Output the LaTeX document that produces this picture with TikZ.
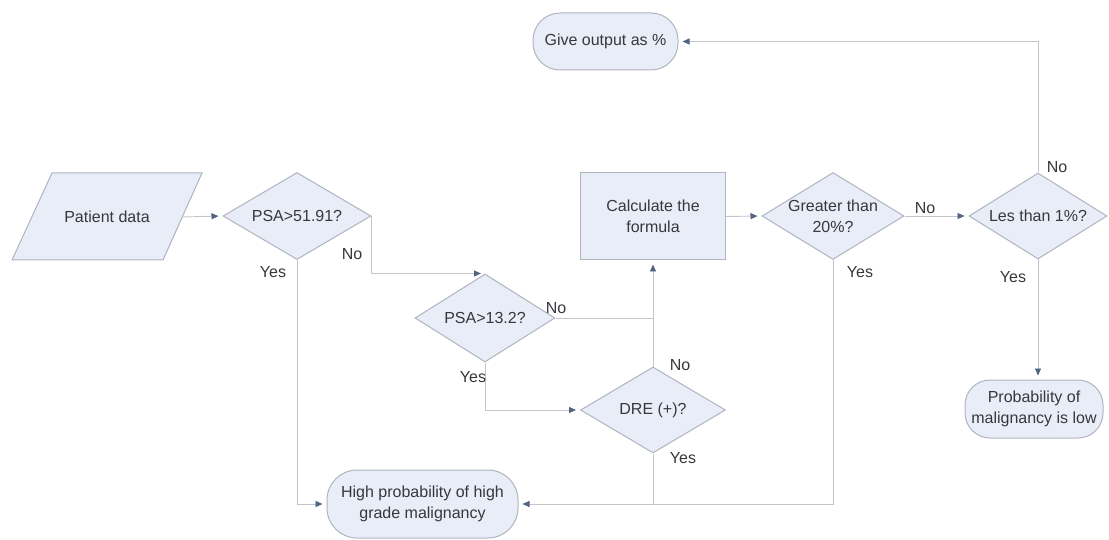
\documentclass[tikz,border=0pt]{standalone}
\usepackage{fontspec}
\setmainfont{Liberation Sans}
\usetikzlibrary{shapes.geometric,arrows.meta}

\definecolor{boxfill}{RGB}{233,237,248}
\definecolor{boxline}{RGB}{176,180,192}
\definecolor{wire}{RGB}{195,197,203}
\definecolor{tipc}{RGB}{80,100,130}
\definecolor{ink}{RGB}{55,55,60}

\tikzset{
  txt/.style={font=\fontsize{16}{21}\selectfont, text=ink, align=center},
  decision/.style={diamond, draw=boxline, fill=boxfill, line width=1pt, inner sep=0pt,
                   minimum width=#1, minimum height=87pt},
  process/.style={rectangle, draw=boxline, fill=boxfill, line width=1pt, txt,
                  minimum width=145pt, minimum height=87pt},
  terminal/.style={rectangle, rounded corners=27pt, draw=boxline, fill=boxfill,
                   line width=1pt, txt, inner sep=0pt},
  flow/.style={draw=wire, line width=0.9pt,
               -{Triangle[length=7pt,width=6pt,color=tipc]}, shorten >=4pt},
  joinline/.style={draw=wire, line width=0.9pt},
  lbl/.style={txt, inner sep=0pt}
}

\begin{document}
\begin{tikzpicture}[x=1pt,y=-1pt]
\useasboundingbox (0,0) rectangle (1109,540);

% input parallelogram
\fill[boxfill] (12,260) -- (52,173) -- (202,173) -- (163,260) -- cycle;
\draw[boxline, line width=1pt] (12,260) -- (52,173) -- (202,173) -- (163,260) -- cycle;
\node[txt] (pd) at (107,217) {Patient data};
\coordinate (pdE) at (182,217);

% decisions
\node[decision=148pt] (d1) at (297,216) {};
\node[txt] at (d1) {PSA>51.91?};
\node[decision=140pt, minimum height=88pt] (d2) at (485,318) {};
\node[txt] at (d2) {PSA>13.2?};
\node[decision=142pt] (d3) at (833,216) {};
\node[txt] at (d3) {Greater than\\20\%?};
\node[decision=138pt, minimum height=86pt] (d4) at (1038,216) {};
\node[txt] at (d4) {Les than 1\%?};
\node[decision=145pt, minimum height=86pt] (dre) at (653,410) {};
\node[txt] at (dre) {DRE (+)?};

% process and terminals
\node[process] (calc) at (653,216.5) {Calculate the\\formula};
\node[terminal, minimum width=145pt, minimum height=57pt] (out) at (605.5,41.5) {Give output as \%};
\node[terminal, rounded corners=30pt, minimum width=191pt, minimum height=68pt] (high) at (422.5,504) {High probability of high\\grade malignancy};
\node[terminal, rounded corners=25pt, minimum width=138pt, minimum height=58pt] (low) at (1034,409) {Probability of\\malignancy is low};

% connectors
\draw[flow] (pdE) -- (d1.west);
\draw[flow] (d1.south) |- (high.west);
\draw[flow] (d1.east) |- (d2.north);
\draw[joinline] (d2.east) -- (dre.north |- d2.east);
\draw[flow] (dre.north) -- (calc.south);
\draw[flow] (d2.south) |- (dre.west);
\draw[joinline] (dre.south) -- (dre.south |- high.east);
\draw[flow] (d3.south) |- (high.east);
\draw[flow] (calc.east) -- (d3.west);
\draw[flow] (d3.east) -- (d4.west);
\draw[flow] (d4.north) |- (out.east);
\draw[flow] (d4.south) -- (d4.south |- low.north);

% branch labels
\node[lbl] (l1n) at (352,254) {No};
\node[lbl] (l1y) at (273,272) {Yes};
\node[lbl] (l2n) at (556,308) {No};
\node[lbl] (l2y) at (473,377) {Yes};
\node[lbl] (l3n) at (680,365) {No};
\node[lbl] (l3y) at (683,458) {Yes};
\node[lbl] (l4n) at (925,208) {No};
\node[lbl] (l4y) at (860,272) {Yes};
\node[lbl] (l5n) at (1057,167) {No};
\node[lbl] (l5y) at (1013,277) {Yes};
\end{tikzpicture}
\end{document}
